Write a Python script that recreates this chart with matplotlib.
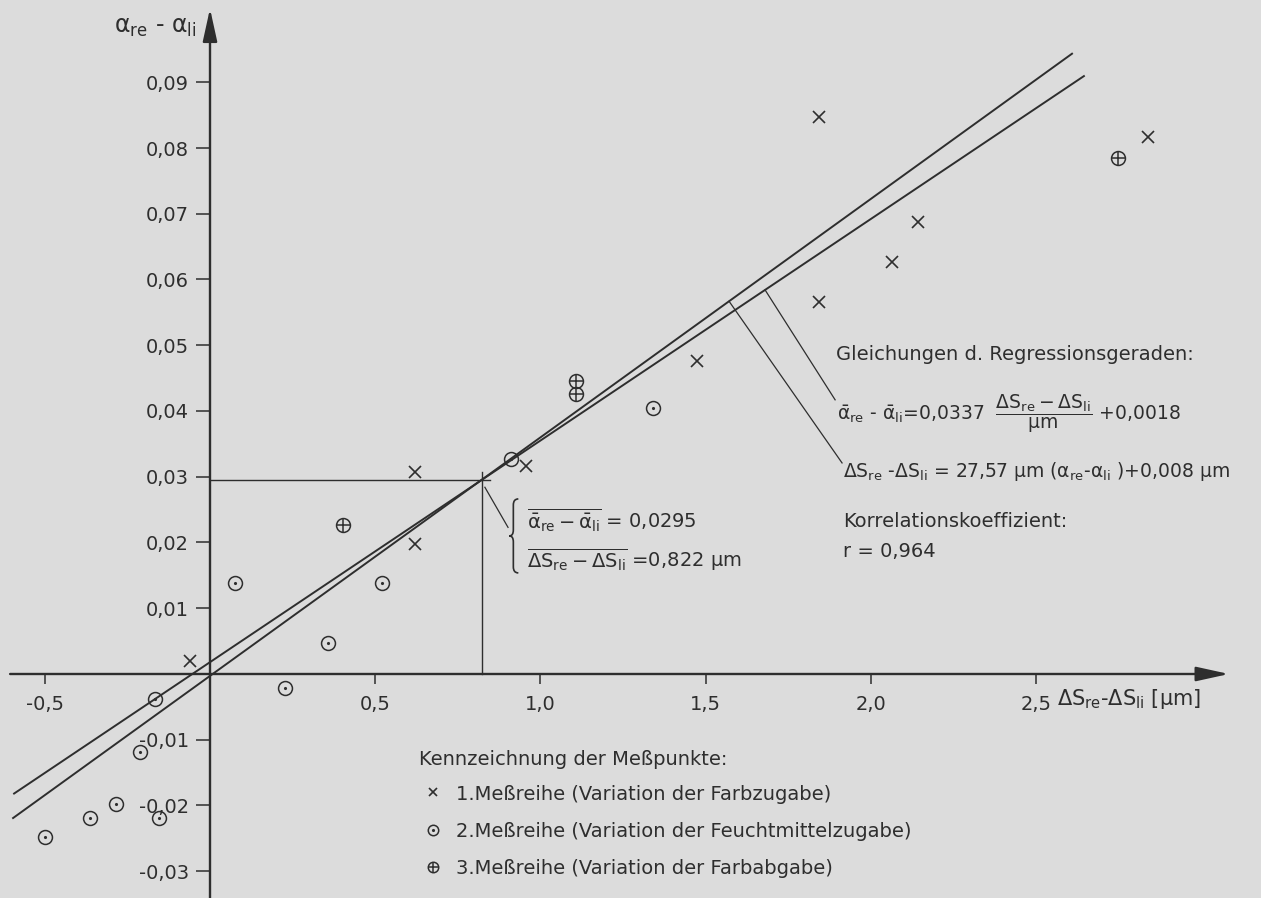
import numpy as np
import matplotlib
matplotlib.use('Agg')
import matplotlib.pyplot as plt
from matplotlib.path import Path
from matplotlib.patches import PathPatch
from matplotlib.transforms import ScaledTranslation

plt.rcParams['font.family'] = ['DejaVu Sans']
plt.rcParams['mathtext.fontset'] = 'dejavusans'
plt.rcParams['mathtext.default'] = 'regular'

ink = '#2e2e2e'
paper = '#dcdcdc'

# 1. Messreihe (x), 2. Messreihe (o mit Punkt), 3. Messreihe (o mit Kreuz)
x1 = [-0.06, 0.62, 0.62, 0.955, 1.474, 1.843, 1.843, 2.064, 2.143, 2.839]
y1 = [0.0020, 0.0307, 0.0198, 0.0316, 0.0476, 0.0847, 0.0566, 0.0627, 0.0687, 0.0817]
x2 = [-0.499, -0.363, -0.285, -0.212, -0.166, -0.154, 0.227, 0.357, 0.076, 0.521, 0.911, 1.341]
y2 = [-0.0248, -0.0219, -0.0198, -0.0119, -0.0038, -0.0219, -0.0021, 0.0047, 0.0138, 0.0138, 0.0327, 0.0405]
x3 = [0.403, 1.108, 1.108, 2.748]
y3 = [0.0227, 0.0446, 0.0426, 0.0785]

# Regressionsgeraden
a1, b1 = 0.0337, 0.0018      # alpha = a1 * dS + b1
a2, b2 = 27.57, 0.008        # dS = a2 * alpha + b2
line1_x = [-0.593, 2.645]
line2_x = [-0.596, 2.609]
x_mean, y_mean = 0.822, 0.0295

xticks = [-0.5, 0.5, 1.0, 1.5, 2.0, 2.5]
xticklabels = ['-0,5', '0,5', '1,0', '1,5', '2,0', '2,5']
yticks = [-0.03, -0.02, -0.01, 0.01, 0.02, 0.03, 0.04, 0.05, 0.06, 0.07, 0.08, 0.09]
yticklabels = ['-0,03', '-0,02', '-0,01', '0,01', '0,02', '0,03', '0,04', '0,05',
               '0,06', '0,07', '0,08', '0,09']


def mark(ax, xs, ys, kind, size=10):
    if kind == 1:
        ax.plot(xs, ys, ls='none', marker='x', ms=size * 0.8, mew=1.2, color=ink)
    elif kind == 2:
        ax.plot(xs, ys, ls='none', marker='o', ms=size, mfc='none', mew=1.1, color=ink)
        ax.plot(xs, ys, ls='none', marker='.', ms=2.5, color=ink)
    else:
        ax.plot(xs, ys, ls='none', marker='o', ms=size, mfc='none', mew=1.1, color=ink)
        ax.plot(xs, ys, ls='none', marker='+', ms=size, mew=1.1, color=ink)


fig = plt.figure(figsize=(12.61, 8.98), dpi=100, facecolor=paper)
ax = fig.add_axes([0, 0, 1, 1])
ax.set_facecolor(paper)
ax.set_xlim(-0.6356, 3.181)
ax.set_ylim(-0.03407, 0.10251)

for s in ax.spines.values():
    s.set_visible(False)
ax.spines['left'].set_position(('data', 0))
ax.spines['bottom'].set_position(('data', 0))

ax.set_xticks(xticks)
ax.set_xticklabels(xticklabels)
ax.set_yticks(yticks)
ax.set_yticklabels(yticklabels)
ax.tick_params(axis='x', direction='out', length=7, width=1.1, pad=8, labelsize=14,
               colors=ink)
ax.tick_params(axis='y', direction='out', length=10, width=1.1, pad=5, labelsize=14,
               colors=ink)

# Achsen mit Pfeilen
arrow = dict(arrowstyle='-|>,head_length=1.0,head_width=0.22', color=ink, lw=1.7,
             mutation_scale=20, shrinkA=0, shrinkB=0)
ax.annotate('', xy=(3.084, 0), xytext=(-0.605, 0), arrowprops=arrow)
ax.annotate('', xy=(0, 0.1012), xytext=(0, -0.0345), arrowprops=arrow)

# Regressionsgeraden
lx1 = np.array(line1_x)
lx2 = np.array(line2_x)
ax.plot(lx1, a1 * lx1 + b1, color=ink, lw=1.4)
ax.plot(lx2, (lx2 - b2) / a2, color=ink, lw=1.4)

# Mittelwert
ax.plot([0, x_mean + 0.026], [y_mean, y_mean], color=ink, lw=1.0)
ax.plot([x_mean, x_mean], [0, y_mean + 0.0012], color=ink, lw=1.0)
ax.plot([x_mean + 0.01, 0.902], [y_mean - 0.0011, 0.0223], color=ink, lw=0.9)

# geschweifte Klammer (Maße in Zoll um den Mittelpunkt)
brace = Path([(0.09, 0.37), (0.04, 0.37), (0.04, 0.31), (0.04, 0.06),
              (0.04, 0.0), (0.0, 0.0), (0.04, 0.0), (0.04, -0.06),
              (0.04, -0.31), (0.04, -0.37), (0.09, -0.37)],
             [Path.MOVETO, Path.CURVE3, Path.CURVE3, Path.LINETO,
              Path.CURVE3, Path.CURVE3, Path.CURVE3, Path.CURVE3,
              Path.LINETO, Path.CURVE3, Path.CURVE3])
brace_tr = fig.dpi_scale_trans + ScaledTranslation(0.906, 0.0210, ax.transData)
ax.add_patch(PathPatch(brace, transform=brace_tr, fill=False, lw=1.2, edgecolor=ink))

ax.text(0.959, 0.0222,
        r'$\overline{\bar{\alpha}_{re}-\bar{\alpha}_{li}}$ = 0,0295',
        fontsize=14, color=ink, va='baseline')
ax.text(0.959, 0.01627,
        r'$\overline{\Delta S_{re}-\Delta S_{li}}$ =0,822 $\mu$m',
        fontsize=14, color=ink, va='baseline')

# Messpunkte
mark(ax, x1, y1, 1)
mark(ax, x2, y2, 2)
mark(ax, x3, y3, 3)

# Hinweislinien zu den Gleichungen
ax.plot([1.680, 1.892], [a1 * 1.680 + b1, 0.0417], color=ink, lw=0.9)
ax.plot([1.571, 1.913], [(1.571 - b2) / a2, 0.0321], color=ink, lw=0.9)

ax.text(1.895, 0.04776, 'Gleichungen d. Regressionsgeraden:', fontsize=14, color=ink,
        va='baseline')
ax.text(1.898, 0.03863,
        r'$\bar{\alpha}_{re}$ - $\bar{\alpha}_{li}$=0,0337  '
        r'$\dfrac{\Delta S_{re}-\Delta S_{li}}{\mu m}$ +0,0018',
        fontsize=13.5, color=ink, va='baseline')
ax.text(1.916, 0.02996,
        r'$\Delta S_{re}$ -$\Delta S_{li}$ = 27,57 $\mu$m '
        r'($\alpha_{re}$-$\alpha_{li}$ )+0,008 $\mu$m',
        fontsize=13.5, color=ink, va='baseline')
ax.text(1.916, 0.02236, 'Korrelationskoeffizient:', fontsize=14, color=ink, va='baseline')
ax.text(1.916, 0.01779, 'r = 0,964', fontsize=14, color=ink, va='baseline')

# Achsenbeschriftung
ax.text(-0.04, 0.09749, r'$\alpha_{re}$ - $\alpha_{li}$', fontsize=17,
        color=ink, ha='right', va='baseline')
ax.text(2.565, -0.00471, r'$\Delta S_{re}$-$\Delta S_{li}$ [$\mu$m]',
        fontsize=15, color=ink, va='baseline')

# Legende
ax.text(0.633, -0.01384, 'Kennzeichnung der Meßpunkte:', fontsize=14, color=ink,
        va='baseline')
leg_y = [-0.0180, -0.0237, -0.0293]
leg_text = ['1.Meßreihe (Variation der Farbzugabe)',
            '2.Meßreihe (Variation der Feuchtmittelzugabe)',
            '3.Meßreihe (Variation der Farbabgabe)']
for i, (yy, tt) in enumerate(zip(leg_y, leg_text)):
    mark(ax, [0.675], [yy], i + 1, size=7.5)
    ax.text(0.745, yy - 0.00115, tt, fontsize=14, color=ink, va='baseline')

fig.savefig('out.png', dpi=100, facecolor=paper)
